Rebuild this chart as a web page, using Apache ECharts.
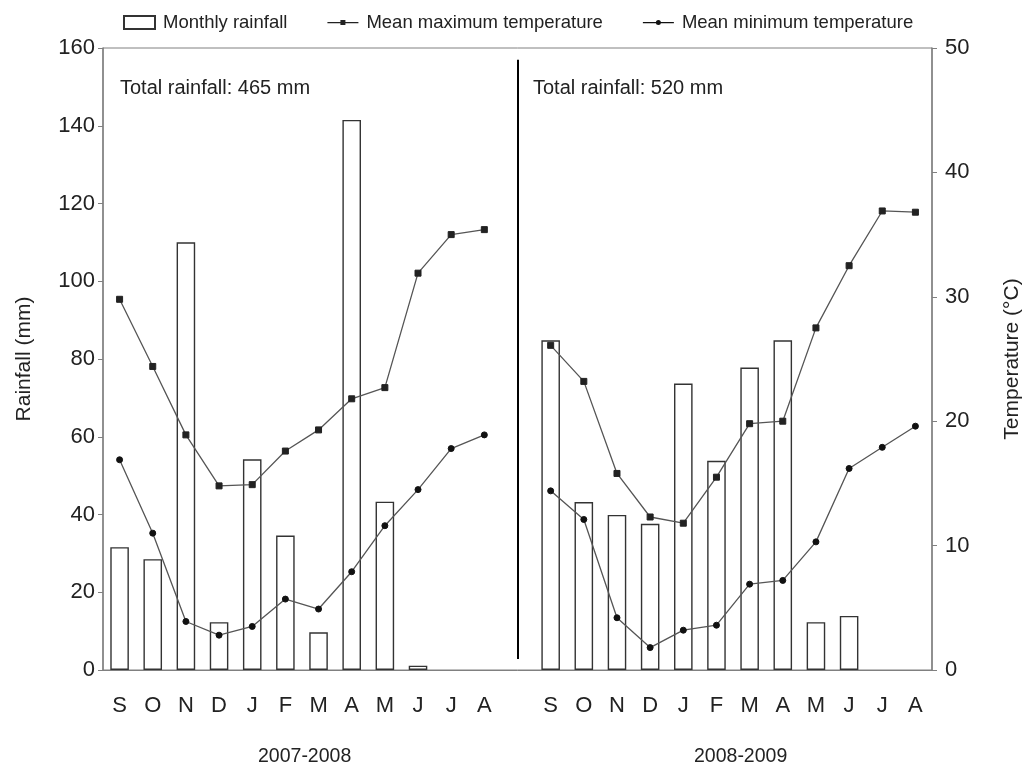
<!DOCTYPE html>
<html>
<head>
<meta charset="utf-8">
<script src="https://cdn.jsdelivr.net/npm/echarts@6/dist/echarts.min.js"></script>
<style>
  html, body { margin: 0; padding: 0; background: #fff; }
  #chart { width: 1029px; height: 773px; }
</style>
</head>
<body>
<div id="chart"></div>
<script>
// months of each season, Sept -> Aug
var months = ['S', 'O', 'N', 'D', 'J', 'F', 'M', 'A', 'M', 'J', 'J', 'A'];
var seasons = ['2007-2008', '2008-2009'];
var totals = ['Total rainfall: 465 mm', 'Total rainfall: 520 mm'];

// monthly rainfall (mm)
var rain0708 = [31.6, 28.5, 110.0, 12.3, 54.2, 34.6, 9.7, 141.5, 43.3, 1.1, 0, 0];
var rain0809 = [84.8, 43.2, 39.9, 37.6, 73.7, 53.8, 77.8, 84.8, 12.3, 13.9, 0, 0];
// mean maximum temperature (°C)
var tmax0708 = [29.8, 24.4, 18.9, 14.8, 14.9, 17.6, 19.3, 21.8, 22.7, 31.9, 35.0, 35.4];
var tmax0809 = [26.1, 23.2, 15.8, 12.3, 11.8, 15.5, 19.8, 20.0, 27.5, 32.5, 36.9, 36.8];
// mean minimum temperature (°C)
var tmin0708 = [16.9, 11.0, 3.9, 2.8, 3.5, 5.7, 4.9, 7.9, 11.6, 14.5, 17.8, 18.9];
var tmin0809 = [14.4, 12.1, 4.2, 1.8, 3.2, 3.6, 6.9, 7.2, 10.3, 16.2, 17.9, 19.6];

// one empty slot between the two seasons (the divider goes there)
var categories = months.concat(['']).concat(months);
function join(a, b) { return a.concat([null]).concat(b); }
// dry months draw no bar at all
function noZero(v) { return v === 0 ? null : v; }

var font = "'Liberation Sans', Arial, sans-serif";
var ink = '#222';
var axisGray = '#808080';

// legend icons: thin line with a small marker (corner dots keep the box 31x13)
var box = 'M0,0h0.01v0.01h-0.01Z M0,13h0.01v-0.01h-0.01Z ';
var iconMax = 'path://' + box + 'M0,6h31v1.2h-31Z M13,4h5v5h-5Z';
var iconMin = 'path://' + box + 'M0,6h31v1.2h-31Z M18,6.6a2.5,2.5 0 1,1 -5,0a2.5,2.5 0 1,1 5,0Z';

var chart = echarts.init(document.getElementById('chart'));
chart.setOption({
  animation: false,
  backgroundColor: '#fff',
  legend: {
    top: 8,
    left: 118,
    itemWidth: 31,
    itemHeight: 13,
    itemGap: 40,
    textStyle: { fontFamily: font, fontSize: 18.5, color: ink, padding: [0, 0, 0, 3] },
    data: [
      { name: 'Monthly rainfall', icon: 'rect' },
      { name: 'Mean maximum temperature', icon: iconMax },
      { name: 'Mean minimum temperature', icon: iconMin }
    ]
  },
  grid: {
    left: 103, right: 97, top: 48, bottom: 103,
    outerBoundsMode: 'none',
    show: true, borderColor: axisGray, borderWidth: 1
  },
  xAxis: {
    type: 'category',
    data: categories,
    axisLine: { lineStyle: { color: axisGray, width: 1 } },
    axisTick: { show: false },
    axisLabel: { fontFamily: font, fontSize: 22, color: ink, margin: 25, interval: 0 }
  },
  yAxis: [
    {
      type: 'value', min: 0, max: 160, interval: 20,
      name: 'Rainfall (mm)', nameLocation: 'middle', nameGap: 68, nameRotate: 90,
      nameTextStyle: { fontFamily: font, fontSize: 21, color: ink },
      axisLine: { show: true, lineStyle: { color: axisGray, width: 1.5 } },
      axisTick: { show: true, length: 5, lineStyle: { color: axisGray } },
      axisLabel: { fontFamily: font, fontSize: 22, color: ink, margin: 8 },
      splitLine: { show: false }
    },
    {
      type: 'value', min: 0, max: 50, interval: 10, position: 'right',
      name: 'Temperature (°C)', nameLocation: 'middle', nameGap: 70, nameRotate: 90,
      nameTextStyle: { fontFamily: font, fontSize: 21, color: ink },
      axisLine: { show: true, lineStyle: { color: axisGray, width: 1.5 } },
      axisTick: { show: true, length: 5, lineStyle: { color: axisGray } },
      axisLabel: { fontFamily: font, fontSize: 22, color: ink, margin: 13 },
      splitLine: { show: false }
    }
  ],
  series: [
    {
      name: 'Monthly rainfall',
      type: 'bar',
      barWidth: '56%',
      data: join(rain0708, rain0809).map(noZero),
      itemStyle: { color: '#fff', borderColor: '#333', borderWidth: 1.4 },
      markLine: {
        silent: true,
        symbol: 'none',
        label: { show: false },
        lineStyle: { color: '#000', width: 2, type: 'solid' },
        data: [[{ coord: [12, 157] }, { coord: [12, 2.8] }]]
      },
      z: 1
    },
    {
      name: 'Mean maximum temperature',
      type: 'line',
      yAxisIndex: 1,
      data: join(tmax0708, tmax0809),
      symbol: 'rect',
      symbolSize: 6,
      lineStyle: { color: '#555', width: 1.3 },
      itemStyle: { color: '#222', borderColor: '#222' },
      z: 3
    },
    {
      name: 'Mean minimum temperature',
      type: 'line',
      yAxisIndex: 1,
      data: join(tmin0708, tmin0809),
      symbol: 'circle',
      symbolSize: 6,
      lineStyle: { color: '#555', width: 1.3 },
      itemStyle: { color: '#111', borderColor: '#111' },
      z: 4
    }
  ],
  graphic: [
    { type: 'text', left: 120, top: 78, style: { text: totals[0], font: '20px ' + font, fill: ink } },
    { type: 'text', left: 533, top: 78, style: { text: totals[1], font: '20px ' + font, fill: ink } },
    { type: 'text', left: 258, top: 747, style: { text: seasons[0], font: '19.5px ' + font, fill: ink } },
    { type: 'text', left: 694, top: 747, style: { text: seasons[1], font: '19.5px ' + font, fill: ink } }
  ]
});
</script>
</body>
</html>
